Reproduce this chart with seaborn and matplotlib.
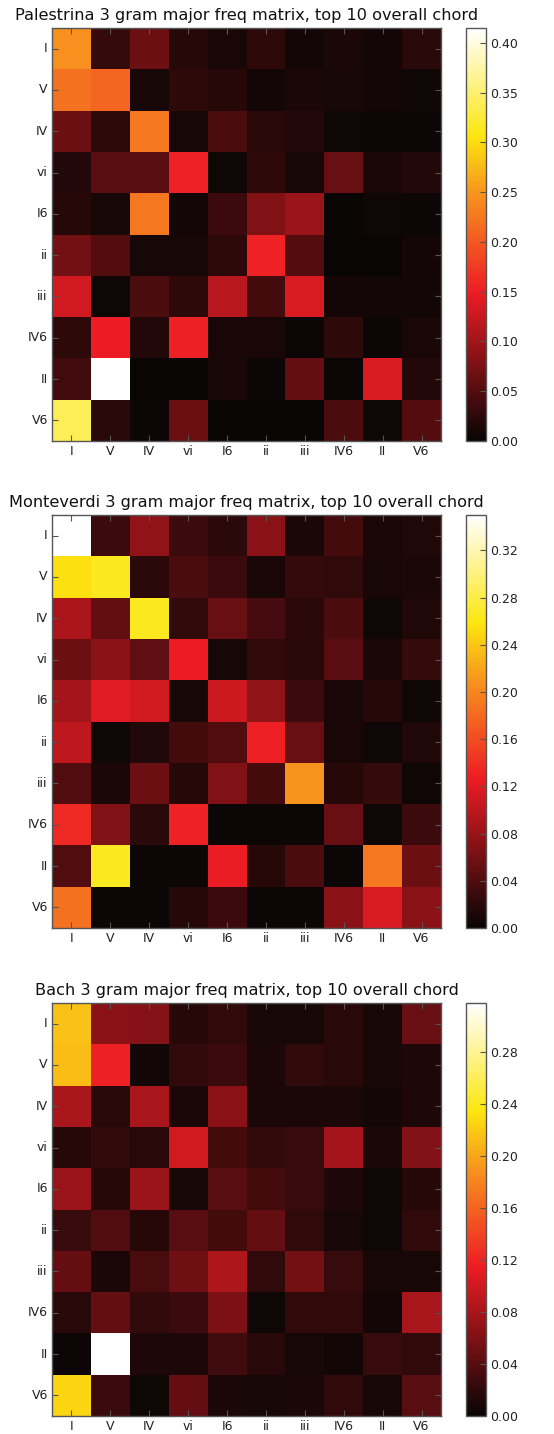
import numpy as np
import pandas as pd
import matplotlib
matplotlib.use("Agg")
import matplotlib.pyplot as plt
from matplotlib.colors import LinearSegmentedColormap
import seaborn as sns

plt.rcParams["font.family"] = ["DejaVu Sans"]

chords = ["I", "V", "IV", "vi", "I6", "ii", "iii", "IV6", "II", "V6"]

palestrina = [
    [0.245, 0.030, 0.065, 0.020, 0.012, 0.025, 0.007, 0.013, 0.008, 0.022],
    [0.220, 0.210, 0.010, 0.025, 0.020, 0.007, 0.013, 0.011, 0.009, 0.005],
    [0.065, 0.025, 0.225, 0.010, 0.045, 0.022, 0.019, 0.006, 0.004, 0.004],
    [0.018, 0.055, 0.055, 0.155, 0.006, 0.025, 0.010, 0.062, 0.012, 0.018],
    [0.020, 0.010, 0.225, 0.007, 0.035, 0.080, 0.095, 0.003, 0.006, 0.004],
    [0.070, 0.050, 0.011, 0.010, 0.025, 0.155, 0.050, 0.003, 0.003, 0.009],
    [0.130, 0.006, 0.045, 0.025, 0.115, 0.040, 0.137, 0.009, 0.007, 0.007],
    [0.025, 0.150, 0.018, 0.153, 0.012, 0.012, 0.004, 0.025, 0.004, 0.012],
    [0.038, 0.415, 0.002, 0.002, 0.012, 0.004, 0.060, 0.004, 0.137, 0.018],
    [0.340, 0.022, 0.004, 0.065, 0.003, 0.003, 0.003, 0.045, 0.005, 0.050],
]

monteverdi = [
    [0.350, 0.028, 0.075, 0.028, 0.020, 0.072, 0.012, 0.033, 0.010, 0.015],
    [0.255, 0.265, 0.020, 0.038, 0.028, 0.010, 0.025, 0.023, 0.010, 0.012],
    [0.090, 0.050, 0.265, 0.023, 0.053, 0.035, 0.020, 0.038, 0.005, 0.015],
    [0.056, 0.072, 0.048, 0.127, 0.009, 0.023, 0.018, 0.046, 0.012, 0.025],
    [0.085, 0.120, 0.110, 0.009, 0.108, 0.075, 0.030, 0.010, 0.017, 0.005],
    [0.100, 0.005, 0.015, 0.033, 0.040, 0.128, 0.053, 0.010, 0.005, 0.015],
    [0.040, 0.012, 0.056, 0.017, 0.066, 0.033, 0.210, 0.017, 0.025, 0.005],
    [0.135, 0.066, 0.020, 0.130, 0.004, 0.004, 0.004, 0.053, 0.005, 0.028],
    [0.040, 0.265, 0.003, 0.003, 0.125, 0.017, 0.038, 0.004, 0.190, 0.056],
    [0.185, 0.004, 0.004, 0.017, 0.030, 0.003, 0.003, 0.072, 0.115, 0.072],
]

bach = [
    [0.215, 0.065, 0.063, 0.015, 0.020, 0.008, 0.008, 0.017, 0.008, 0.048],
    [0.213, 0.118, 0.006, 0.022, 0.026, 0.010, 0.020, 0.017, 0.008, 0.012],
    [0.080, 0.017, 0.080, 0.010, 0.065, 0.010, 0.010, 0.010, 0.005, 0.012],
    [0.015, 0.020, 0.017, 0.100, 0.030, 0.020, 0.024, 0.078, 0.010, 0.062],
    [0.073, 0.015, 0.073, 0.008, 0.040, 0.030, 0.024, 0.012, 0.004, 0.015],
    [0.024, 0.037, 0.015, 0.040, 0.030, 0.047, 0.020, 0.008, 0.004, 0.020],
    [0.047, 0.010, 0.033, 0.052, 0.083, 0.020, 0.054, 0.024, 0.008, 0.008],
    [0.017, 0.047, 0.020, 0.026, 0.058, 0.004, 0.020, 0.020, 0.005, 0.080],
    [0.003, 0.318, 0.012, 0.012, 0.028, 0.017, 0.008, 0.005, 0.024, 0.020],
    [0.225, 0.026, 0.004, 0.047, 0.010, 0.008, 0.010, 0.020, 0.008, 0.040],
]

composers = ["Palestrina", "Monteverdi", "Bach"]
matrices = [palestrina, monteverdi, bach]
cbar_ticks = [
    [0.00, 0.05, 0.10, 0.15, 0.20, 0.25, 0.30, 0.35, 0.40],
    [0.00, 0.04, 0.08, 0.12, 0.16, 0.20, 0.24, 0.28, 0.32],
    [0.00, 0.04, 0.08, 0.12, 0.16, 0.20, 0.24, 0.28],
]

# black -> red -> orange -> yellow -> white
heat = LinearSegmentedColormap.from_list(
    "heat",
    [
        (0.00, (0.03, 0.02, 0.02)),
        (0.36, (237 / 255, 28 / 255, 36 / 255)),
        (0.60, (247 / 255, 148 / 255, 30 / 255)),
        (0.74, (252 / 255, 230 / 255, 15 / 255)),
        (1.00, (1.0, 1.0, 1.0)),
    ],
)

W, H = 554, 1434
fig = plt.figure(figsize=(W / 100, H / 100), dpi=100)

ax_left, ax_w = 52 / W, 389 / W
cb_left, cb_w = 466 / W, 20 / W
tops = [28, 515, 1003]
ax_hpx = 413

frame = "#555555"
for name, mat, ticks, top in zip(composers, matrices, cbar_ticks, tops):
    bottom = 1 - (top + ax_hpx) / H
    ax = fig.add_axes([ax_left, bottom, ax_w, ax_hpx / H])
    cax = fig.add_axes([cb_left, bottom, cb_w, ax_hpx / H])
    df = pd.DataFrame(mat, index=chords, columns=chords)
    vmax = float(np.max(df.values))
    sns.heatmap(df, ax=ax, cmap=heat, vmin=0, vmax=vmax, cbar_ax=cax,
                linewidths=0, square=False)
    ax.set_title(f"{name} 3 gram major freq matrix, top 10 overall chord",
                 fontsize=11.6, pad=6, color="#111111")
    ax.set_xticklabels(chords, rotation=0, fontsize=9)
    ax.set_yticklabels(chords, rotation=0, fontsize=9)
    ax.tick_params(axis="both", direction="in", length=4, width=0.8,
                   color="#555555", pad=3, labelcolor="#222222",
                   top=True, right=True, bottom=True, left=True,
                   labeltop=False, labelright=False)
    for sp in ax.spines.values():
        sp.set_visible(True)
        sp.set_color(frame)
        sp.set_linewidth(1.0)

    cb = ax.collections[0].colorbar
    cb.set_ticks(ticks)
    cb.set_ticklabels([f"{t:.2f}" for t in ticks])
    cb.outline.set_visible(True)
    cb.outline.set_edgecolor(frame)
    cb.outline.set_linewidth(1.0)
    cax.tick_params(direction="in", length=4, width=0.8, color="#555555",
                    labelsize=9, pad=3, labelcolor="#222222")

fig.savefig("out.png", dpi=100)
